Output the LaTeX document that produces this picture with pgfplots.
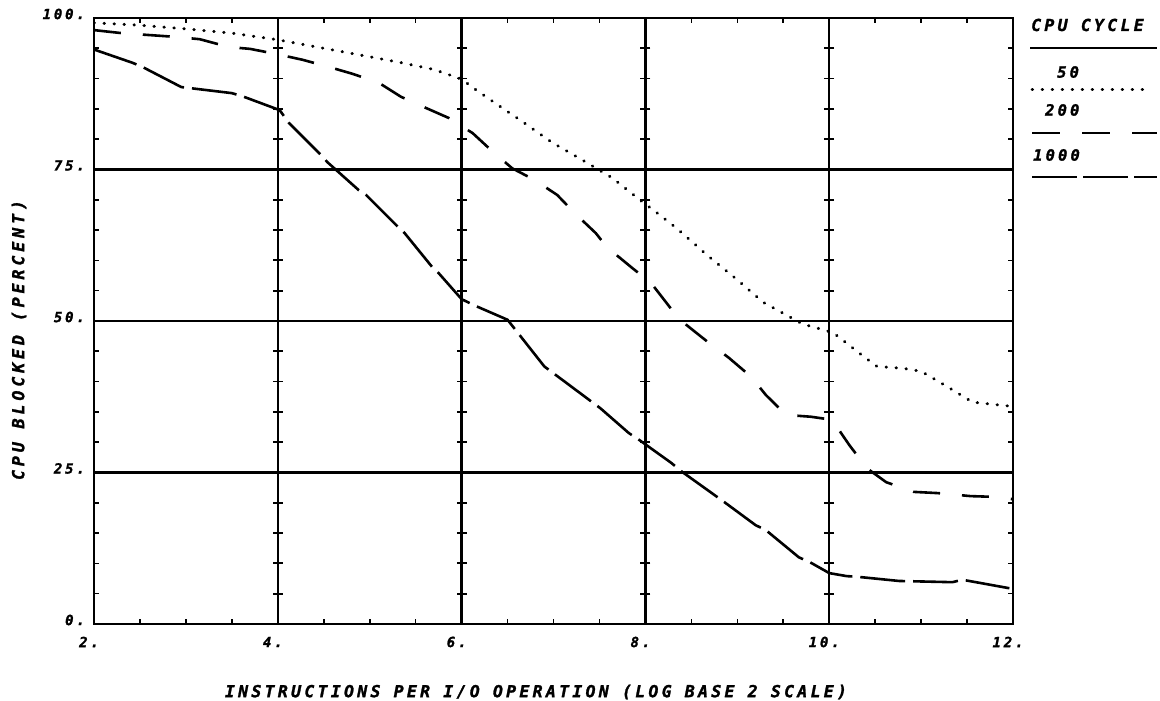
\documentclass[border=0pt]{standalone}
\usepackage{fontspec}
\usepackage{pgfplots}
\pgfplotsset{compat=1.18}
\newfontfamily\plotfont{DejaVu Sans Mono}[LetterSpace=20, FakeBold=1.6]
\newfontfamily\plotfontw{DejaVu Sans Mono}[LetterSpace=24, FakeBold=1.6]
\begin{document}
\begin{tikzpicture}[x=1bp,y=1bp]
\path[use as bounding box, fill=white] (0,0) rectangle (1160,701);
\begin{axis}[at={(94bp,77bp)}, anchor=south west, scale only axis,
 width=919bp, height=606bp,
 xmin=2, xmax=12, ymin=0, ymax=100,
 xtick={2,4,6,8,10,12}, xticklabels={2.,4.,6.,8.,10.,12.},
 ytick={0,25,50,75,100}, yticklabels={0.,25.,50.,75.,100.},
 minor x tick num=3, minor y tick num=4,
 grid=major, major grid style={black, line width=2.4bp},
 axis line style={black, line width=2.6bp},
 major tick length=0pt, minor tick length=5bp, tick align=inside,
 minor tick style={black, line width=1.6bp},
 xticklabel style={font=\plotfont\bfseries\itshape\fontsize{14bp}{14bp}\selectfont, inner sep=0pt, anchor=center, yshift=-18bp, xshift=-5bp},
 yticklabel style={font=\plotfont\bfseries\itshape\fontsize{14bp}{14bp}\selectfont, inner sep=0pt, anchor=east, xshift=-9bp, yshift=4bp},
]
\pgfplotsinvokeforeach{4,6,8,10}{
\addplot[only marks, mark=-, mark size=5bp, mark options={black, line width=1.8bp}] coordinates {(#1,5)(#1,10)(#1,15)(#1,20)(#1,30)(#1,35)(#1,40)(#1,45)(#1,55)(#1,60)(#1,65)(#1,70)(#1,80)(#1,85)(#1,90)(#1,95)};
}
% CPU cycle 50
\addplot[black, line width=3bp, line cap=round, dash pattern=on 0.5bp off 9.5bp] coordinates {
(2,99.2)(2.5,98.8)(3,98.2)(3.5,97.5)(4,96.4)(4.5,95.0)(5,93.6)(5.35,92.6)(5.7,91.5)(6,89.9)(6.16,88.1)(6.38,85.8)(6.68,82.7)(6.99,79.4)(7.31,76.6)(7.64,73.6)(7.93,70.1)(8.13,67.8)(8.34,65.3)(8.7,60.5)(9.0,56.8)(9.28,53.1)(9.71,49.5)(10.04,48.1)(10.37,44.2)(10.52,42.5)(10.8,42.2)(11,41.7)(11.28,39.2)(11.56,36.6)(12,35.9)};
% CPU cycle 200
\addplot[black, line width=2.6bp, dash pattern=on 27bp off 22bp] coordinates {
(2,98.0)(2.3,97.5)(2.87,96.9)(3.15,96.5)(3.47,95.2)(3.7,94.9)(4,94.0)(4.27,93.1)(4.56,91.9)(4.81,90.8)(5.1,89.3)(5.34,87.0)(5.62,85.1)(5.86,83.5)(6.12,81.0)(6.32,78.2)(6.55,75.2)(6.79,73.3)(7.04,70.8)(7.23,67.8)(7.46,64.5)(7.58,62.2)(7.86,58.7)(8.06,56.3)(8.28,52.0)(8.45,49.3)(8.69,46.4)(8.91,43.9)(9.15,40.8)(9.31,37.8)(9.53,34.5)(9.8,34.2)(10.03,33.7)(10.22,29.5)(10.41,25.7)(10.62,23.4)(10.92,21.8)(11.18,21.6)(11.54,21.1)(11.75,21.0)(12,20.6)};
% CPU cycle 1000
\addplot[black, line width=2.6bp, dash pattern=on 45bp off 8bp] coordinates {
(2,94.8)(2.42,92.6)(2.53,91.9)(2.95,88.6)(3.5,87.6)(3.63,87.0)(4.02,84.8)(4.12,82.7)(4.47,77.4)(4.54,76.2)(4.88,71.6)(4.96,70.8)(5.29,65.8)(5.38,64.5)(5.68,58.9)(5.75,57.9)(6,53.6)(6.15,52.5)(6.5,50.2)(6.9,42.5)(7.51,35.6)(7.82,31.5)(7.93,30.4)(8.28,26.6)(8.4,25.1)(8.75,21.3)(8.86,20.1)(9.2,16.3)(9.31,15.5)(9.67,11.0)(9.79,10.2)(10,8.4)(10.19,7.9)(10.3,7.8)(10.76,7.1)(11.34,6.9)(11.45,7.3)(11.96,5.9)};
\end{axis}
% axis labels
\node[font=\plotfontw\bfseries\itshape\fontsize{16.5bp}{17bp}\selectfont, rotate=90, inner sep=0pt] at (19,361) {CPU BLOCKED (PERCENT)};
\node[font=\plotfont\bfseries\itshape\fontsize{16.5bp}{17bp}\selectfont, inner sep=0pt] at (536,9) {INSTRUCTIONS PER I/O OPERATION (LOG BASE 2 SCALE)};
% legend
\node[font=\plotfont\bfseries\itshape\fontsize{16.5bp}{17bp}\selectfont, inner sep=0pt, anchor=west] at (1031,676) {CPU CYCLE};
\draw[black, line width=2.5bp] (1030,653) -- (1157,653);
\node[font=\plotfont\bfseries\itshape\fontsize{15.5bp}{16bp}\selectfont, inner sep=0pt, anchor=west] at (1057,629) {50};
\draw[black, line width=3bp, line cap=round, dash pattern=on 0.5bp off 9.5bp] (1032,611) -- (1152,611);
\node[font=\plotfont\bfseries\itshape\fontsize{15.5bp}{16bp}\selectfont, inner sep=0pt, anchor=west] at (1045,591) {200};
\draw[black, line width=2.6bp, dash pattern=on 28bp off 22bp] (1032,568) -- (1157,568);
\node[font=\plotfont\bfseries\itshape\fontsize{15.5bp}{16bp}\selectfont, inner sep=0pt, anchor=west] at (1033,546) {1000};
\draw[black, line width=2.6bp, dash pattern=on 45bp off 6bp] (1032,524) -- (1157,524);
\end{tikzpicture}
\end{document}
